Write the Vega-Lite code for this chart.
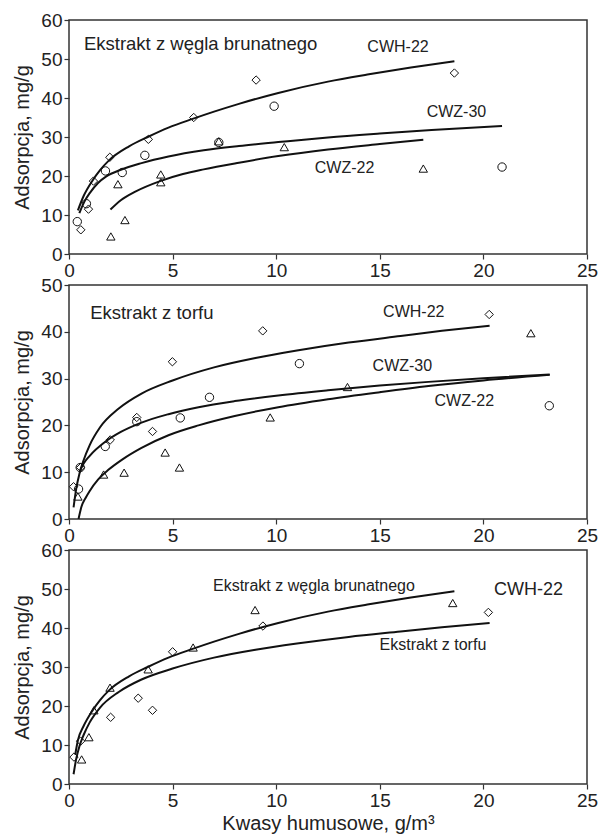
{
  "$schema": "https://vega.github.io/schema/vega-lite/v6.json",
  "padding": {"left": 12, "top": 10, "right": 3, "bottom": 2},
  "spacing": 31,
  "bounds": "flush",
  "config": {
    "font": "Liberation Sans",
    "view": {"stroke": "#333", "strokeWidth": 1.5},
    "axis": {"grid": false, "domain": false, "tickColor": "#333", "tickSize": 5, "tickWidth": 1.2,
             "labelFontSize": 19, "labelColor": "#222", "labelPadding": 2, "labelFlush": false,
             "titleFontSize": 20, "titleFontWeight": "normal", "titleColor": "#222"},
    "axisY": {"titlePadding": 8},
    "axisX": {"titlePadding": 3}
  },
  "datasets": {
    "curves": [
      {"panel": "p1", "series": "CWH-22", "x": 0.43, "y": 11.2},
      {"panel": "p1", "series": "CWH-22", "x": 0.7, "y": 14.8},
      {"panel": "p1", "series": "CWH-22", "x": 1.13, "y": 18.8},
      {"panel": "p1", "series": "CWH-22", "x": 1.5, "y": 21.5},
      {"panel": "p1", "series": "CWH-22", "x": 1.93, "y": 24.0},
      {"panel": "p1", "series": "CWH-22", "x": 2.9, "y": 27.6},
      {"panel": "p1", "series": "CWH-22", "x": 3.8, "y": 30.0},
      {"panel": "p1", "series": "CWH-22", "x": 4.8, "y": 32.4},
      {"panel": "p1", "series": "CWH-22", "x": 6.0, "y": 34.7},
      {"panel": "p1", "series": "CWH-22", "x": 7.0, "y": 36.5},
      {"panel": "p1", "series": "CWH-22", "x": 8.2, "y": 38.5},
      {"panel": "p1", "series": "CWH-22", "x": 10.1, "y": 41.3},
      {"panel": "p1", "series": "CWH-22", "x": 12.5, "y": 44.2},
      {"panel": "p1", "series": "CWH-22", "x": 14.4, "y": 46.0},
      {"panel": "p1", "series": "CWH-22", "x": 16.5, "y": 47.8},
      {"panel": "p1", "series": "CWH-22", "x": 18.6, "y": 49.4},
      {"panel": "p1", "series": "CWZ-30", "x": 0.5, "y": 10.5},
      {"panel": "p1", "series": "CWZ-30", "x": 0.75, "y": 13.5},
      {"panel": "p1", "series": "CWZ-30", "x": 1.0, "y": 15.6},
      {"panel": "p1", "series": "CWZ-30", "x": 1.4, "y": 18.2},
      {"panel": "p1", "series": "CWZ-30", "x": 1.8, "y": 19.9},
      {"panel": "p1", "series": "CWZ-30", "x": 2.5, "y": 21.6},
      {"panel": "p1", "series": "CWZ-30", "x": 3.5, "y": 23.3},
      {"panel": "p1", "series": "CWZ-30", "x": 4.8, "y": 25.0},
      {"panel": "p1", "series": "CWZ-30", "x": 6.5, "y": 26.6},
      {"panel": "p1", "series": "CWZ-30", "x": 8.2, "y": 27.7},
      {"panel": "p1", "series": "CWZ-30", "x": 10.1, "y": 28.7},
      {"panel": "p1", "series": "CWZ-30", "x": 12.5, "y": 29.9},
      {"panel": "p1", "series": "CWZ-30", "x": 15.0, "y": 30.9},
      {"panel": "p1", "series": "CWZ-30", "x": 17.5, "y": 31.8},
      {"panel": "p1", "series": "CWZ-30", "x": 20.9, "y": 32.8},
      {"panel": "p1", "series": "CWZ-22", "x": 2.0, "y": 11.4},
      {"panel": "p1", "series": "CWZ-22", "x": 2.5, "y": 13.8},
      {"panel": "p1", "series": "CWZ-22", "x": 3.2, "y": 16.0},
      {"panel": "p1", "series": "CWZ-22", "x": 4.4, "y": 18.7},
      {"panel": "p1", "series": "CWZ-22", "x": 5.5, "y": 20.5},
      {"panel": "p1", "series": "CWZ-22", "x": 6.5, "y": 21.7},
      {"panel": "p1", "series": "CWZ-22", "x": 8.2, "y": 23.4},
      {"panel": "p1", "series": "CWZ-22", "x": 10.1, "y": 25.1},
      {"panel": "p1", "series": "CWZ-22", "x": 12.5, "y": 26.8},
      {"panel": "p1", "series": "CWZ-22", "x": 15.0, "y": 28.2},
      {"panel": "p1", "series": "CWZ-22", "x": 17.1, "y": 29.3},
      {"panel": "p2", "series": "CWH-22", "x": 0.22, "y": 2.5},
      {"panel": "p2", "series": "CWH-22", "x": 0.35, "y": 6.5},
      {"panel": "p2", "series": "CWH-22", "x": 0.5, "y": 9.6},
      {"panel": "p2", "series": "CWH-22", "x": 0.7, "y": 12.5},
      {"panel": "p2", "series": "CWH-22", "x": 1.0, "y": 15.8},
      {"panel": "p2", "series": "CWH-22", "x": 1.5, "y": 19.6},
      {"panel": "p2", "series": "CWH-22", "x": 2.4, "y": 23.6},
      {"panel": "p2", "series": "CWH-22", "x": 3.5, "y": 26.8},
      {"panel": "p2", "series": "CWH-22", "x": 5.0, "y": 29.6},
      {"panel": "p2", "series": "CWH-22", "x": 7.0, "y": 32.4},
      {"panel": "p2", "series": "CWH-22", "x": 9.0, "y": 34.4},
      {"panel": "p2", "series": "CWH-22", "x": 11.0, "y": 36.0},
      {"panel": "p2", "series": "CWH-22", "x": 13.5, "y": 37.7},
      {"panel": "p2", "series": "CWH-22", "x": 16.0, "y": 39.1},
      {"panel": "p2", "series": "CWH-22", "x": 18.0, "y": 40.2},
      {"panel": "p2", "series": "CWH-22", "x": 20.3, "y": 41.3},
      {"panel": "p2", "series": "CWZ-30", "x": 0.5, "y": 10.0},
      {"panel": "p2", "series": "CWZ-30", "x": 0.7, "y": 11.8},
      {"panel": "p2", "series": "CWZ-30", "x": 1.0, "y": 13.5},
      {"panel": "p2", "series": "CWZ-30", "x": 1.75, "y": 16.5},
      {"panel": "p2", "series": "CWZ-30", "x": 2.5, "y": 18.6},
      {"panel": "p2", "series": "CWZ-30", "x": 3.5, "y": 20.6},
      {"panel": "p2", "series": "CWZ-30", "x": 4.8, "y": 22.4},
      {"panel": "p2", "series": "CWZ-30", "x": 6.25, "y": 23.9},
      {"panel": "p2", "series": "CWZ-30", "x": 8.0, "y": 25.2},
      {"panel": "p2", "series": "CWZ-30", "x": 10.1, "y": 26.4},
      {"panel": "p2", "series": "CWZ-30", "x": 12.5, "y": 27.5},
      {"panel": "p2", "series": "CWZ-30", "x": 15.0, "y": 28.5},
      {"panel": "p2", "series": "CWZ-30", "x": 17.35, "y": 29.3},
      {"panel": "p2", "series": "CWZ-30", "x": 20.0, "y": 30.1},
      {"panel": "p2", "series": "CWZ-30", "x": 23.2, "y": 30.9},
      {"panel": "p2", "series": "CWZ-22", "x": 0.46, "y": 0.0},
      {"panel": "p2", "series": "CWZ-22", "x": 0.6, "y": 2.6},
      {"panel": "p2", "series": "CWZ-22", "x": 0.8, "y": 4.5},
      {"panel": "p2", "series": "CWZ-22", "x": 1.0, "y": 6.0},
      {"panel": "p2", "series": "CWZ-22", "x": 1.4, "y": 8.4},
      {"panel": "p2", "series": "CWZ-22", "x": 1.9, "y": 10.5},
      {"panel": "p2", "series": "CWZ-22", "x": 2.6, "y": 12.8},
      {"panel": "p2", "series": "CWZ-22", "x": 3.5, "y": 15.2},
      {"panel": "p2", "series": "CWZ-22", "x": 4.8, "y": 17.9},
      {"panel": "p2", "series": "CWZ-22", "x": 6.25, "y": 20.0},
      {"panel": "p2", "series": "CWZ-22", "x": 8.0, "y": 22.0},
      {"panel": "p2", "series": "CWZ-22", "x": 10.1, "y": 23.9},
      {"panel": "p2", "series": "CWZ-22", "x": 12.5, "y": 25.6},
      {"panel": "p2", "series": "CWZ-22", "x": 15.0, "y": 27.1},
      {"panel": "p2", "series": "CWZ-22", "x": 17.35, "y": 28.4},
      {"panel": "p2", "series": "CWZ-22", "x": 20.0, "y": 29.6},
      {"panel": "p2", "series": "CWZ-22", "x": 23.2, "y": 30.8},
      {"panel": "p3", "series": "wegiel", "x": 0.3, "y": 7.5},
      {"panel": "p3", "series": "wegiel", "x": 0.43, "y": 11.2},
      {"panel": "p3", "series": "wegiel", "x": 0.7, "y": 14.8},
      {"panel": "p3", "series": "wegiel", "x": 1.13, "y": 18.8},
      {"panel": "p3", "series": "wegiel", "x": 1.5, "y": 21.5},
      {"panel": "p3", "series": "wegiel", "x": 1.93, "y": 24.0},
      {"panel": "p3", "series": "wegiel", "x": 2.9, "y": 27.6},
      {"panel": "p3", "series": "wegiel", "x": 3.8, "y": 30.0},
      {"panel": "p3", "series": "wegiel", "x": 4.8, "y": 32.4},
      {"panel": "p3", "series": "wegiel", "x": 6.0, "y": 34.7},
      {"panel": "p3", "series": "wegiel", "x": 7.0, "y": 36.5},
      {"panel": "p3", "series": "wegiel", "x": 8.2, "y": 38.5},
      {"panel": "p3", "series": "wegiel", "x": 10.1, "y": 41.3},
      {"panel": "p3", "series": "wegiel", "x": 12.5, "y": 44.2},
      {"panel": "p3", "series": "wegiel", "x": 14.4, "y": 46.0},
      {"panel": "p3", "series": "wegiel", "x": 16.5, "y": 47.8},
      {"panel": "p3", "series": "wegiel", "x": 18.6, "y": 49.4},
      {"panel": "p3", "series": "torf", "x": 0.22, "y": 2.5},
      {"panel": "p3", "series": "torf", "x": 0.35, "y": 6.5},
      {"panel": "p3", "series": "torf", "x": 0.5, "y": 9.6},
      {"panel": "p3", "series": "torf", "x": 0.7, "y": 12.5},
      {"panel": "p3", "series": "torf", "x": 1.0, "y": 15.8},
      {"panel": "p3", "series": "torf", "x": 1.5, "y": 19.6},
      {"panel": "p3", "series": "torf", "x": 2.4, "y": 23.6},
      {"panel": "p3", "series": "torf", "x": 3.5, "y": 26.8},
      {"panel": "p3", "series": "torf", "x": 5.0, "y": 29.6},
      {"panel": "p3", "series": "torf", "x": 7.0, "y": 32.4},
      {"panel": "p3", "series": "torf", "x": 9.0, "y": 34.4},
      {"panel": "p3", "series": "torf", "x": 11.0, "y": 36.0},
      {"panel": "p3", "series": "torf", "x": 13.5, "y": 37.7},
      {"panel": "p3", "series": "torf", "x": 16.0, "y": 39.1},
      {"panel": "p3", "series": "torf", "x": 18.0, "y": 40.2},
      {"panel": "p3", "series": "torf", "x": 20.3, "y": 41.3}
    ],
    "points": [
      {"panel": "p1", "series": "CWH-22", "x": 0.57, "y": 6.2},
      {"panel": "p1", "series": "CWH-22", "x": 0.94, "y": 11.5},
      {"panel": "p1", "series": "CWH-22", "x": 1.18, "y": 18.7},
      {"panel": "p1", "series": "CWH-22", "x": 1.97, "y": 24.8},
      {"panel": "p1", "series": "CWH-22", "x": 3.83, "y": 29.4},
      {"panel": "p1", "series": "CWH-22", "x": 6.02, "y": 35.0},
      {"panel": "p1", "series": "CWH-22", "x": 9.03, "y": 44.6},
      {"panel": "p1", "series": "CWH-22", "x": 18.6, "y": 46.4},
      {"panel": "p1", "series": "CWZ-30", "x": 0.4, "y": 8.3},
      {"panel": "p1", "series": "CWZ-30", "x": 0.84, "y": 12.9},
      {"panel": "p1", "series": "CWZ-30", "x": 1.76, "y": 21.3},
      {"panel": "p1", "series": "CWZ-30", "x": 2.57, "y": 20.9},
      {"panel": "p1", "series": "CWZ-30", "x": 3.66, "y": 25.3},
      {"panel": "p1", "series": "CWZ-30", "x": 7.23, "y": 28.6},
      {"panel": "p1", "series": "CWZ-30", "x": 9.9, "y": 37.9},
      {"panel": "p1", "series": "CWZ-30", "x": 20.9, "y": 22.3},
      {"panel": "p1", "series": "CWZ-22", "x": 2.02, "y": 4.5},
      {"panel": "p1", "series": "CWZ-22", "x": 2.7, "y": 8.7},
      {"panel": "p1", "series": "CWZ-22", "x": 2.36, "y": 17.9},
      {"panel": "p1", "series": "CWZ-22", "x": 4.43, "y": 20.4},
      {"panel": "p1", "series": "CWZ-22", "x": 4.43, "y": 18.4},
      {"panel": "p1", "series": "CWZ-22", "x": 7.23, "y": 28.9},
      {"panel": "p1", "series": "CWZ-22", "x": 10.39, "y": 27.4},
      {"panel": "p1", "series": "CWZ-22", "x": 17.1, "y": 21.9},
      {"panel": "p2", "series": "CWH-22", "x": 0.22, "y": 6.9},
      {"panel": "p2", "series": "CWH-22", "x": 0.56, "y": 11.0},
      {"panel": "p2", "series": "CWH-22", "x": 1.99, "y": 16.9},
      {"panel": "p2", "series": "CWH-22", "x": 3.27, "y": 21.7},
      {"panel": "p2", "series": "CWH-22", "x": 4.03, "y": 18.7},
      {"panel": "p2", "series": "CWH-22", "x": 4.99, "y": 33.6},
      {"panel": "p2", "series": "CWH-22", "x": 9.35, "y": 40.2},
      {"panel": "p2", "series": "CWH-22", "x": 20.28, "y": 43.7},
      {"panel": "p2", "series": "CWZ-30", "x": 0.46, "y": 6.4},
      {"panel": "p2", "series": "CWZ-30", "x": 0.54, "y": 11.0},
      {"panel": "p2", "series": "CWZ-30", "x": 1.75, "y": 15.5},
      {"panel": "p2", "series": "CWZ-30", "x": 3.27, "y": 20.8},
      {"panel": "p2", "series": "CWZ-30", "x": 5.37, "y": 21.6},
      {"panel": "p2", "series": "CWZ-30", "x": 6.78, "y": 26.0},
      {"panel": "p2", "series": "CWZ-30", "x": 11.12, "y": 33.2},
      {"panel": "p2", "series": "CWZ-30", "x": 23.18, "y": 24.2},
      {"panel": "p2", "series": "CWZ-22", "x": 0.43, "y": 4.8},
      {"panel": "p2", "series": "CWZ-22", "x": 1.67, "y": 9.5},
      {"panel": "p2", "series": "CWZ-22", "x": 2.66, "y": 9.9},
      {"panel": "p2", "series": "CWZ-22", "x": 4.64, "y": 14.2},
      {"panel": "p2", "series": "CWZ-22", "x": 5.33, "y": 11.0},
      {"panel": "p2", "series": "CWZ-22", "x": 9.71, "y": 21.7},
      {"panel": "p2", "series": "CWZ-22", "x": 13.44, "y": 28.2},
      {"panel": "p2", "series": "CWZ-22", "x": 22.29, "y": 39.7},
      {"panel": "p3", "series": "wegiel", "x": 0.61, "y": 6.3},
      {"panel": "p3", "series": "wegiel", "x": 0.96, "y": 12.0},
      {"panel": "p3", "series": "wegiel", "x": 1.2, "y": 18.9},
      {"panel": "p3", "series": "wegiel", "x": 1.98, "y": 24.7},
      {"panel": "p3", "series": "wegiel", "x": 3.82, "y": 29.4},
      {"panel": "p3", "series": "wegiel", "x": 5.99, "y": 35.0},
      {"panel": "p3", "series": "wegiel", "x": 8.98, "y": 44.6},
      {"panel": "p3", "series": "wegiel", "x": 18.52, "y": 46.4},
      {"panel": "p3", "series": "torf", "x": 0.24, "y": 6.9},
      {"panel": "p3", "series": "torf", "x": 0.56, "y": 11.0},
      {"panel": "p3", "series": "torf", "x": 2.01, "y": 17.1},
      {"panel": "p3", "series": "torf", "x": 3.34, "y": 22.0},
      {"panel": "p3", "series": "torf", "x": 4.03, "y": 18.9},
      {"panel": "p3", "series": "torf", "x": 5.0, "y": 33.9},
      {"panel": "p3", "series": "torf", "x": 9.36, "y": 40.5},
      {"panel": "p3", "series": "torf", "x": 20.24, "y": 44.0}
    ],
    "labels": [
      {"panel": "p1", "kind": "head", "text": "Ekstrakt z węgla brunatnego", "x": 0.72, "y": 53.9},
      {"panel": "p1", "kind": "series", "text": "CWH-22", "x": 15.88, "y": 53.0},
      {"panel": "p1", "kind": "series", "text": "CWZ-30", "x": 18.7, "y": 36.4},
      {"panel": "p1", "kind": "series", "text": "CWZ-22", "x": 13.3, "y": 22.1},
      {"panel": "p2", "kind": "head", "text": "Ekstrakt z torfu", "x": 1.02, "y": 44.0},
      {"panel": "p2", "kind": "series", "text": "CWH-22", "x": 16.64, "y": 44.3},
      {"panel": "p2", "kind": "series", "text": "CWZ-30", "x": 16.09, "y": 32.7},
      {"panel": "p2", "kind": "series", "text": "CWZ-22", "x": 19.08, "y": 25.2},
      {"panel": "p3", "kind": "curve", "text": "Ekstrakt z węgla brunatnego", "x": 6.95, "y": 50.8},
      {"panel": "p3", "kind": "curve", "text": "Ekstrakt z torfu", "x": 14.99, "y": 35.6},
      {"panel": "p3", "kind": "big", "text": "CWH-22", "x": 22.18, "y": 49.8}
    ]
  },
  "vconcat": [
    {
      "width": 518, "height": 234,
      "encoding": {
        "x": {"field": "x", "type": "quantitative", "scale": {"domain": [0, 25], "nice": false}, "axis": {"values": [0, 5, 10, 15, 20, 25], "title": null}},
        "y": {"field": "y", "type": "quantitative", "scale": {"domain": [0, 60], "nice": false}, "axis": {"values": [0, 10, 20, 30, 40, 50, 60], "title": "Adsorpcja, mg/g"}}
      },
      "layer": [
        {"data": {"name": "curves"}, "transform": [{"filter": "datum.panel === 'p1'"}],
         "mark": {"type": "line", "color": "#111", "strokeWidth": 2, "interpolate": "monotone"},
         "encoding": {"detail": {"field": "series"}}},
        {"data": {"name": "points"}, "transform": [{"filter": "datum.panel === 'p1'"}],
         "mark": {"type": "point", "filled": false, "color": "#111", "strokeWidth": 1, "opacity": 1},
         "encoding": {
           "shape": {"field": "series", "type": "nominal", "scale": {"domain": ["CWH-22", "CWZ-30", "CWZ-22", "wegiel", "torf"], "range": ["diamond", "circle", "triangle-up", "triangle-up", "diamond"]}, "legend": null},
           "size": {"field": "series", "type": "nominal", "scale": {"domain": ["CWH-22", "CWZ-30", "CWZ-22", "wegiel", "torf"], "range": [70, 70, 105, 105, 70]}, "legend": null}}},
        {"data": {"name": "labels"}, "transform": [{"filter": "datum.panel === 'p1' && datum.kind === 'head'"}],
         "mark": {"type": "text", "align": "left", "baseline": "middle", "fontSize": 18.5, "color": "#222"},
         "encoding": {"text": {"field": "text"}}},
        {"data": {"name": "labels"}, "transform": [{"filter": "datum.panel === 'p1' && datum.kind === 'series'"}],
         "mark": {"type": "text", "align": "center", "baseline": "middle", "fontSize": 16, "color": "#222"},
         "encoding": {"text": {"field": "text"}}}
      ]
    },
    {
      "width": 518, "height": 234,
      "encoding": {
        "x": {"field": "x", "type": "quantitative", "scale": {"domain": [0, 25], "nice": false}, "axis": {"values": [0, 5, 10, 15, 20, 25], "title": null}},
        "y": {"field": "y", "type": "quantitative", "scale": {"domain": [0, 50], "nice": false}, "axis": {"values": [0, 10, 20, 30, 40, 50], "title": "Adsorpcja, mg/g"}}
      },
      "layer": [
        {"data": {"name": "curves"}, "transform": [{"filter": "datum.panel === 'p2'"}],
         "mark": {"type": "line", "color": "#111", "strokeWidth": 2, "interpolate": "monotone"},
         "encoding": {"detail": {"field": "series"}}},
        {"data": {"name": "points"}, "transform": [{"filter": "datum.panel === 'p2'"}],
         "mark": {"type": "point", "filled": false, "color": "#111", "strokeWidth": 1, "opacity": 1},
         "encoding": {
           "shape": {"field": "series", "type": "nominal", "scale": {"domain": ["CWH-22", "CWZ-30", "CWZ-22", "wegiel", "torf"], "range": ["diamond", "circle", "triangle-up", "triangle-up", "diamond"]}, "legend": null},
           "size": {"field": "series", "type": "nominal", "scale": {"domain": ["CWH-22", "CWZ-30", "CWZ-22", "wegiel", "torf"], "range": [70, 70, 105, 105, 70]}, "legend": null}}},
        {"data": {"name": "labels"}, "transform": [{"filter": "datum.panel === 'p2' && datum.kind === 'head'"}],
         "mark": {"type": "text", "align": "left", "baseline": "middle", "fontSize": 18.5, "color": "#222"},
         "encoding": {"text": {"field": "text"}}},
        {"data": {"name": "labels"}, "transform": [{"filter": "datum.panel === 'p2' && datum.kind === 'series'"}],
         "mark": {"type": "text", "align": "center", "baseline": "middle", "fontSize": 16, "color": "#222"},
         "encoding": {"text": {"field": "text"}}}
      ]
    },
    {
      "width": 518, "height": 234,
      "encoding": {
        "x": {"field": "x", "type": "quantitative", "scale": {"domain": [0, 25], "nice": false}, "axis": {"values": [0, 5, 10, 15, 20, 25], "title": "Kwasy humusowe, g/m³"}},
        "y": {"field": "y", "type": "quantitative", "scale": {"domain": [0, 60], "nice": false}, "axis": {"values": [0, 10, 20, 30, 40, 50, 60], "title": "Adsorpcja, mg/g"}}
      },
      "layer": [
        {"data": {"name": "curves"}, "transform": [{"filter": "datum.panel === 'p3'"}],
         "mark": {"type": "line", "color": "#111", "strokeWidth": 2, "interpolate": "monotone"},
         "encoding": {"detail": {"field": "series"}}},
        {"data": {"name": "points"}, "transform": [{"filter": "datum.panel === 'p3'"}],
         "mark": {"type": "point", "filled": false, "color": "#111", "strokeWidth": 1, "opacity": 1},
         "encoding": {
           "shape": {"field": "series", "type": "nominal", "scale": {"domain": ["CWH-22", "CWZ-30", "CWZ-22", "wegiel", "torf"], "range": ["diamond", "circle", "triangle-up", "triangle-up", "diamond"]}, "legend": null},
           "size": {"field": "series", "type": "nominal", "scale": {"domain": ["CWH-22", "CWZ-30", "CWZ-22", "wegiel", "torf"], "range": [70, 70, 105, 105, 70]}, "legend": null}}},
        {"data": {"name": "labels"}, "transform": [{"filter": "datum.panel === 'p3' && datum.kind === 'curve'"}],
         "mark": {"type": "text", "align": "left", "baseline": "middle", "fontSize": 16, "color": "#222"},
         "encoding": {"text": {"field": "text"}}},
        {"data": {"name": "labels"}, "transform": [{"filter": "datum.panel === 'p3' && datum.kind === 'big'"}],
         "mark": {"type": "text", "align": "center", "baseline": "middle", "fontSize": 18, "color": "#222"},
         "encoding": {"text": {"field": "text"}}}
      ]
    }
  ]
}
